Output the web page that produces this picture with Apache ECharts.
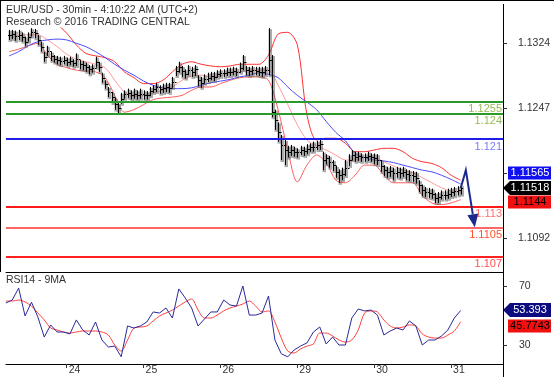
<!DOCTYPE html>
<html>
<head>
<meta charset="utf-8">
<script src="https://cdn.jsdelivr.net/npm/echarts@6/dist/echarts.min.js"></script>
<style>
html, body { margin: 0; padding: 0; background: #fff; }
#main { width: 554px; height: 377px; }
</style>
</head>
<body>
<div id="main"></div>
<script>
// time axis: hours from 24th 00:00 (weekend removed)
var dayTicks = [0, 24, 48, 72, 96, 120];
var dayLabels = ['24', '25', '26', '29', '30', '31'];

// hourly bars, first one at t = -18
var barStart = -18;
var highs = [
    1.1340, 1.1340, 1.1339, 1.1340, 1.1337, 1.1332, 1.1337, 1.1342, 1.1341, 1.1334,
    1.1326, 1.1314, 1.1321, 1.1314, 1.1310, 1.1309, 1.1308, 1.1309, 1.1307, 1.1308,
    1.1305, 1.1312, 1.1304, 1.1303, 1.1301, 1.1298, 1.1299, 1.1308, 1.1302, 1.1289,
    1.1280, 1.1272, 1.1266, 1.1259, 1.1253, 1.1265, 1.1268, 1.1270, 1.1268, 1.1270,
    1.1268, 1.1270, 1.1268, 1.1267, 1.1272, 1.1274, 1.1277, 1.1274, 1.1276, 1.1277,
    1.1277, 1.1284, 1.1297, 1.1302, 1.1297, 1.1293, 1.1298, 1.1296, 1.1298, 1.1286,
    1.1284, 1.1287, 1.1289, 1.1290, 1.1290, 1.1292, 1.1293, 1.1293, 1.1295, 1.1295,
    1.1296, 1.1295, 1.1301, 1.1310, 1.1297, 1.1296, 1.1297, 1.1296, 1.1296, 1.1296,
    1.1297, 1.1342, 1.1310, 1.1245, 1.1230, 1.1215, 1.1209, 1.1202, 1.1203, 1.1201,
    1.1199, 1.1202, 1.1201, 1.1204, 1.1205, 1.1207, 1.1208, 1.1209, 1.1195, 1.1192,
    1.1190, 1.1185, 1.1178, 1.1174, 1.1176, 1.1185, 1.1192, 1.1197, 1.1195, 1.1195,
    1.1193, 1.1193, 1.1195, 1.1193, 1.1193, 1.1192, 1.1185, 1.1179, 1.1177, 1.1178,
    1.1176, 1.1177, 1.1176, 1.1177, 1.1174, 1.1173, 1.1172, 1.1171, 1.1161, 1.1156,
    1.1153, 1.1152, 1.1151, 1.1146, 1.1147, 1.1149, 1.1149, 1.1151, 1.1152, 1.1153,
    1.1154, 1.1155
];
var lows = [
    1.1328, 1.1329, 1.1327, 1.1328, 1.1326, 1.1321, 1.1326, 1.1332, 1.1330, 1.1322,
    1.1314, 1.1302, 1.1309, 1.1303, 1.1301, 1.1299, 1.1298, 1.1299, 1.1297, 1.1298,
    1.1296, 1.1297, 1.1293, 1.1292, 1.1290, 1.1287, 1.1289, 1.1295, 1.1290, 1.1277,
    1.1270, 1.1260, 1.1253, 1.1245, 1.1241, 1.1252, 1.1258, 1.1259, 1.1257, 1.1258,
    1.1257, 1.1258, 1.1257, 1.1257, 1.1261, 1.1265, 1.1266, 1.1264, 1.1265, 1.1266,
    1.1265, 1.1271, 1.1285, 1.1289, 1.1284, 1.1282, 1.1286, 1.1284, 1.1285, 1.1273,
    1.1271, 1.1276, 1.1278, 1.1280, 1.1279, 1.1283, 1.1284, 1.1284, 1.1285, 1.1285,
    1.1286, 1.1285, 1.1289, 1.1292, 1.1286, 1.1285, 1.1286, 1.1286, 1.1285, 1.1284,
    1.1286, 1.1286, 1.1236, 1.1221, 1.1207, 1.1185, 1.1179, 1.1188, 1.1190, 1.1189,
    1.1188, 1.1191, 1.1190, 1.1192, 1.1195, 1.1195, 1.1197, 1.1197, 1.1173, 1.1180,
    1.1176, 1.1172, 1.1164, 1.1158, 1.1161, 1.1166, 1.1178, 1.1185, 1.1183, 1.1184,
    1.1183, 1.1183, 1.1184, 1.1183, 1.1180, 1.1179, 1.1171, 1.1166, 1.1164, 1.1165,
    1.1161, 1.1164, 1.1163, 1.1165, 1.1161, 1.1160, 1.1159, 1.1157, 1.1147, 1.1142,
    1.1141, 1.1140, 1.1139, 1.1134, 1.1134, 1.1138, 1.1138, 1.1139, 1.1141, 1.1142,
    1.1143, 1.1144
];
var closes = [
    1.1334, 1.1335, 1.1333, 1.1334, 1.1332, 1.1326, 1.1332, 1.1337, 1.1336, 1.1328,
    1.1320, 1.1308, 1.1315, 1.1309, 1.1305, 1.1304, 1.1303, 1.1304, 1.1302, 1.1303,
    1.1300, 1.1305, 1.1299, 1.1298, 1.1296, 1.1293, 1.1295, 1.1302, 1.1296, 1.1283,
    1.1276, 1.1266, 1.1260, 1.1252, 1.1247, 1.1258, 1.1264, 1.1265, 1.1262, 1.1264,
    1.1262, 1.1264, 1.1262, 1.1262, 1.1267, 1.1270, 1.1272, 1.1270, 1.1271, 1.1272,
    1.1271, 1.1278, 1.1291, 1.1296, 1.1291, 1.1287, 1.1292, 1.1290, 1.1293, 1.1280,
    1.1277, 1.1282, 1.1283, 1.1285, 1.1284, 1.1287, 1.1289, 1.1289, 1.1290, 1.1290,
    1.1291, 1.1290, 1.1295, 1.1302, 1.1292, 1.1291, 1.1292, 1.1291, 1.1290, 1.1290,
    1.1292, 1.1304, 1.1242, 1.1233, 1.1218, 1.1203, 1.1197, 1.1195, 1.1197, 1.1195,
    1.1195, 1.1197, 1.1196, 1.1198, 1.1201, 1.1201, 1.1203, 1.1204, 1.1185, 1.1188,
    1.1183, 1.1179, 1.1171, 1.1167, 1.1168, 1.1176, 1.1185, 1.1191, 1.1189, 1.1190,
    1.1189, 1.1189, 1.1190, 1.1189, 1.1188, 1.1185, 1.1178, 1.1173, 1.1171, 1.1172,
    1.1170, 1.1171, 1.1170, 1.1171, 1.1168, 1.1167, 1.1166, 1.1164, 1.1155, 1.1149,
    1.1147, 1.1146, 1.1145, 1.1140, 1.1141, 1.1143, 1.1143, 1.1145, 1.1147, 1.1148,
    1.1149, 1.11518
];

// indicator lines, one value every 3 hours from t = -18
var lineStart = -18, lineStep = 3;
var ma = [
    1.1309, 1.1314, 1.1321, 1.1326, 1.1328, 1.1329, 1.1328, 1.1324, 1.1320, 1.1314,
    1.1307, 1.1299, 1.1292, 1.1286, 1.1279, 1.1274, 1.1271, 1.1270, 1.1270, 1.1271,
    1.1274, 1.1277, 1.1279, 1.1281, 1.1284, 1.1286, 1.1289, 1.1287, 1.1283, 1.1272,
    1.1262, 1.1254, 1.1245, 1.1231, 1.1218, 1.1208, 1.1193, 1.1188, 1.1185, 1.1184,
    1.1182, 1.1179, 1.1176, 1.1173, 1.1171, 1.1167, 1.1162, 1.11565
];
var bbUpper = [
    1.1349, 1.1352, 1.1353, 1.1352, 1.1349, 1.1346, 1.1336, 1.1322, 1.1312, 1.1309,
    1.1307, 1.1302, 1.1290, 1.1283, 1.1276, 1.1276, 1.1280, 1.1290, 1.1299, 1.1302,
    1.1299, 1.1297, 1.1296, 1.1297, 1.1299, 1.1299, 1.1299, 1.1310, 1.1335, 1.1337,
    1.1322, 1.1239, 1.1209, 1.1211, 1.1211, 1.1205, 1.1195, 1.1195, 1.1197, 1.1199,
    1.1199, 1.1195, 1.1187, 1.1183, 1.1181, 1.1176, 1.1167, 1.1161
];
var bbMid = [
    1.1330, 1.1333, 1.1334, 1.1334, 1.1328, 1.1320, 1.1311, 1.1305, 1.1302, 1.1299,
    1.1295, 1.1280, 1.1266, 1.1261, 1.1262, 1.1265, 1.1268, 1.1272, 1.1280, 1.1285,
    1.1286, 1.1284, 1.1285, 1.1289, 1.1290, 1.1292, 1.1292, 1.1292, 1.1274, 1.1251,
    1.1227, 1.1209, 1.1202, 1.1197, 1.1191, 1.1185, 1.1185, 1.1188, 1.1188, 1.1183,
    1.1178, 1.1173, 1.1170, 1.1164, 1.1158, 1.1152, 1.1148, 1.1147
];
var bbLower = [
    1.1314, 1.1317, 1.1321, 1.1324, 1.1310, 1.1299, 1.1295, 1.1292, 1.1291, 1.1290,
    1.1283, 1.1262, 1.1242, 1.1245, 1.1251, 1.1257, 1.1259, 1.1260, 1.1262, 1.1268,
    1.1272, 1.1272, 1.1276, 1.1280, 1.1283, 1.1284, 1.1284, 1.1280, 1.1245, 1.1197,
    1.1159, 1.1179, 1.1191, 1.1182, 1.1161, 1.1158, 1.1167, 1.1179, 1.1179, 1.1167,
    1.1158, 1.1158, 1.1158, 1.1143, 1.1134, 1.1132, 1.1134, 1.1138
];

// RSI(14) and its 9MA, one value every 2 hours from t = -19
var rsiStart = -19, rsiStep = 2;
var rsi = [
    58.5, 60.5, 68.6, 49.7, 59.0, 49.0, 35.4, 43.6, 38.8, 38.8,
    37.5, 47.0, 40.2, 36.8, 45.6, 33.4, 28.6, 29.3, 22.0, 42.9,
    41.5, 42.9, 45.6, 52.4, 51.7, 55.1, 48.3, 68.0, 61.9, 55.1,
    42.9, 47.6, 52.4, 52.4, 60.5, 57.1, 56.4, 70.0, 50.3, 50.3,
    51.7, 63.2, 33.4, 24.0, 22.0, 26.6, 29.3, 31.4, 38.8, 42.2,
    30.7, 35.4, 30.0, 30.0, 48.3, 54.4, 53.1, 53.7, 50.3, 36.8,
    39.5, 41.5, 40.2, 46.3, 42.9, 30.0, 33.4, 33.4, 36.1, 40.2,
    48.3, 53.393
];
var rsiMa = [
    59.8, 59.8, 60.5, 59.2, 56.4, 51.7, 47.0, 41.5, 40.2, 38.8,
    38.1, 38.8, 39.5, 39.5, 39.5, 38.8, 36.8, 30.0, 25.9, 33.4,
    41.5, 42.2, 42.9, 46.3, 49.7, 51.7, 53.7, 56.4, 59.2, 61.2,
    53.7, 48.3, 48.3, 50.3, 53.1, 55.1, 56.4, 57.8, 59.8, 56.4,
    52.4, 53.1, 45.6, 34.7, 25.9, 24.6, 27.3, 29.3, 30.7, 38.1,
    38.1, 36.1, 33.4, 32.0, 33.4, 40.2, 51.7, 53.1, 52.4, 47.0,
    42.9, 41.5, 42.2, 43.6, 42.9, 37.5, 35.4, 34.7, 34.7, 36.8,
    39.5, 45.7743
];

// key levels and forecast path
var levelValues = [1.1255, 1.124, 1.121, 1.113, 1.1105, 1.107];
var levelLabels = ['1.1255', '1.124', '1.121', '1.113', '1.1105', '1.107'];
var forecastTimes = [123, 124.6, 127.4];
var forecastPrices = [1.11518, 1.1173, 1.1105];

// axis ticks and labels
var priceTicks = [1.1092, 1.11695, 1.1247, 1.1324];
var priceLabels = [1.1092, 1.1247, 1.1324];
var rsiTicks = [30, 70];

var lowerBandTag = 1.1144;

var FONT = 'Liberation Sans';
var levelLine = ['#2a9a2a', '#2a9a2a', '#1e1ee8', '#ff1a1a', '#ff6666', '#ff2020'];
var levelText = ['#98ba58', '#98ba58', '#7a7aff', '#ff7070', '#ff5030', '#ff5050'];

function pairs(start, step, values) {
    return values.map(function (v, i) { return [start + i * step, v]; });
}

// open tick drawn at the previous bar's close
var barData = highs.map(function (h, i) {
    return [barStart + i, h, lows[i], closes[i], i > 0 ? closes[i - 1] : closes[i]];
});

function renderBar(params, api) {
    var t = api.value(0);
    var hi = api.coord([t, api.value(1)]);
    var lo = api.coord([t, api.value(2)]);
    var cl = api.coord([t, api.value(3)]);
    var op = api.coord([t, api.value(4)]);
    var x = Math.round(hi[0]) + 0.5;
    var yc = Math.round(cl[1]) + 0.5, yo = Math.round(op[1]) + 0.5;
    return {
        type: 'group',
        children: [
            { type: 'rect', shape: { x: x - 1, y: hi[1] + 1, width: 3.5, height: lo[1] - hi[1] + 1 },
              style: { fill: 'rgba(100,100,100,0.55)' } },
            { type: 'line', shape: { x1: x, y1: hi[1], x2: x, y2: lo[1] },
              style: { stroke: '#000', lineWidth: 1 } },
            { type: 'line', shape: { x1: x - 1.5, y1: yo, x2: x, y2: yo },
              style: { stroke: '#000', lineWidth: 1 } },
            { type: 'line', shape: { x1: x, y1: yc, x2: x + 1.5, y2: yc },
              style: { stroke: '#000', lineWidth: 1 } }
        ]
    };
}

// forecast arrow: whole path drawn from the first item
function renderArrow(params, api) {
    if (params.dataIndexInside !== 0) return null;
    var pts = [];
    for (var i = 0; i < forecastTimes.length; i++) {
        pts.push(api.coord([api.value(0, i), api.value(1, i)]));
    }
    var a = pts[pts.length - 2], b = pts[pts.length - 1];
    var dx = b[0] - a[0], dy = b[1] - a[1];
    var len = Math.sqrt(dx * dx + dy * dy);
    var ux = dx / len, uy = dy / len;
    var headL = 13, headW = 5.5;
    var base = [b[0] - ux * headL, b[1] - uy * headL];
    var path = pts.slice(0, pts.length - 1).concat([base]);
    return {
        type: 'group',
        children: [
            { type: 'polyline', shape: { points: path }, style: { stroke: '#1c2a8c', lineWidth: 2, fill: null } },
            { type: 'polygon', shape: { points: [b,
                [base[0] - uy * headW, base[1] + ux * headW],
                [base[0] + uy * headW, base[1] - ux * headW]] },
              style: { fill: '#1c2a8c' } }
        ]
    };
}

var xMin = -18.95, xMax = 136.2;

var chart = echarts.init(document.getElementById('main'));
var titleStyle = { fontSize: 10.5, fontWeight: 'normal', color: '#333', fontFamily: FONT };
var option = {
    animation: false,
    textStyle: { fontFamily: FONT },
    title: [
        { text: 'EUR/USD - 30min - 4:10:22 AM (UTC+2)', left: 6, top: 5, padding: 0, textStyle: titleStyle },
        { text: 'Research \u00a9 2016 TRADING CENTRAL', left: 6, top: 17, padding: 0, textStyle: titleStyle },
        { text: 'RSI14 - 9MA', left: 6, top: 275, padding: 0, textStyle: titleStyle }
    ],
    grid: [
        { left: 6, top: 28, width: 497, height: 244 },
        { left: 6, top: 272, width: 497, height: 92 }
    ],
    xAxis: [
        { gridIndex: 0, type: 'value', min: xMin, max: xMax,
          axisLine: { show: true, onZero: false, lineStyle: { color: '#000', width: 1 } },
          axisTick: { show: false }, axisLabel: { show: false }, splitLine: { show: false } },
        { gridIndex: 1, type: 'value', min: xMin, max: xMax,
          axisLine: { show: true, onZero: false, lineStyle: { color: '#000', width: 1 } },
          axisTick: { show: true, customValues: dayTicks, length: 4, lineStyle: { color: '#333' } },
          axisLabel: { show: true, customValues: dayTicks, margin: 1, align: 'left',
                       padding: [0, 0, 0, 2], fontSize: 10.5, color: '#333', fontFamily: FONT,
                       formatter: function (v) { return dayLabels[dayTicks.indexOf(v)]; } },
          splitLine: { show: false } }
    ],
    yAxis: [
        { gridIndex: 0, type: 'value', position: 'right', min: 1.105182, max: 1.134218,
          axisLine: { show: true, onZero: false, lineStyle: { color: '#000' } },
          axisTick: { show: true, customValues: priceTicks, length: 4, lineStyle: { color: '#333' } },
          axisLabel: { show: true, customValues: priceLabels, margin: 15, fontSize: 10.5,
                       color: '#333', fontFamily: FONT,
                       formatter: function (v) { return v.toFixed(4); } },
          splitLine: { show: false } },
        { gridIndex: 1, type: 'value', position: 'right', min: 17.12, max: 79.49,
          axisLine: { show: true, onZero: false, lineStyle: { color: '#000' } },
          axisTick: { show: true, customValues: rsiTicks, length: 4, lineStyle: { color: '#333' } },
          axisLabel: { show: true, customValues: rsiTicks, margin: 16, fontSize: 10.5,
                       color: '#333', fontFamily: FONT },
          splitLine: { show: false } }
    ],
    series: [
        { type: 'line', xAxisIndex: 0, yAxisIndex: 0, data: pairs(lineStart, lineStep, bbMid),
          showSymbol: false, smooth: 0.3, lineStyle: { color: '#ff9a9a', width: 1 }, z: 2 },
        { type: 'line', xAxisIndex: 0, yAxisIndex: 0, data: pairs(lineStart, lineStep, bbUpper),
          showSymbol: false, smooth: 0.3, lineStyle: { color: '#ff3030', width: 1 }, z: 2 },
        { type: 'line', xAxisIndex: 0, yAxisIndex: 0, data: pairs(lineStart, lineStep, bbLower),
          showSymbol: false, smooth: 0.3, lineStyle: { color: '#ff5a5a', width: 1 }, z: 2 },
        { type: 'line', xAxisIndex: 0, yAxisIndex: 0, data: pairs(lineStart, lineStep, ma),
          showSymbol: false, smooth: 0.3, lineStyle: { color: '#4a4aff', width: 1 }, z: 3,
          markLine: {
              silent: true, symbol: ['none', 'none'], animation: false, precision: 5,
              data: levelValues.map(function (v, i) {
                  return {
                      yAxis: v,
                      lineStyle: { color: levelLine[i], width: 2, type: 'solid' },
                      label: { show: true, position: 'insideEndBottom', distance: [1, 2],
                               formatter: levelLabels[i], color: levelText[i], fontSize: 11,
                               fontFamily: FONT }
                  };
              })
          } },
        { type: 'custom', xAxisIndex: 0, yAxisIndex: 0, data: barData, renderItem: renderBar,
          clip: true, z: 4 },
        { type: 'custom', xAxisIndex: 0, yAxisIndex: 0, renderItem: renderArrow, z: 6,
          data: forecastTimes.map(function (t, i) { return [t, forecastPrices[i]]; }) },
        { type: 'line', xAxisIndex: 1, yAxisIndex: 1, data: pairs(rsiStart, rsiStep, rsiMa),
          showSymbol: false, smooth: 0.3, lineStyle: { color: '#ff4040', width: 1 }, z: 2 },
        { type: 'line', xAxisIndex: 1, yAxisIndex: 1, data: pairs(rsiStart, rsiStep, rsi),
          showSymbol: false, lineStyle: { color: '#2a2a9a', width: 1 }, z: 3 }
    ]
};
chart.setOption(option);

// right side value tags
function tag(gridIndex, t, v, shiftY, text, bg, fg, pointer) {
    var p = chart.convertToPixel({ xAxisIndex: gridIndex, yAxisIndex: gridIndex }, [t, v]);
    var y = Math.round(p[1]) + shiftY;
    var shape = pointer
        ? [[503, y], [510, y - 7], [551, y - 7], [551, y + 7], [510, y + 7]]
        : [[508, y - 6.5], [551, y - 6.5], [551, y + 6.5], [508, y + 6.5]];
    return {
        type: 'group', z: 100,
        children: [
            { type: 'polygon', shape: { points: shape }, style: { fill: bg } },
            { type: 'text', x: 530, y: y,
              style: { text: text, fill: fg, font: '11px ' + FONT, align: 'center', verticalAlign: 'middle' } }
        ]
    };
}

var lastT = barStart + closes.length - 1;
var lastMa = ma[ma.length - 1];
var lastClose = closes[closes.length - 1];
var lastRsiT = rsiStart + (rsi.length - 1) * rsiStep;

chart.setOption({
    graphic: [
        { type: 'line', shape: { x1: 0, y1: 0.5, x2: 554, y2: 0.5 }, style: { stroke: '#000', lineWidth: 1 } },
        { type: 'line', shape: { x1: 0.5, y1: 0, x2: 0.5, y2: 272 }, style: { stroke: '#000', lineWidth: 1 } },
        { type: 'line', shape: { x1: 503.5, y1: 4, x2: 503.5, y2: 377 }, style: { stroke: '#000', lineWidth: 1 } },
        tag(0, lastT, lastMa, -11, String(lastMa), '#1010f0', '#fff', false),
        tag(0, lastT, lastClose, 0, String(lastClose), '#000', '#fff', true),
        tag(0, lastT, lowerBandTag, 7, String(lowerBandTag), '#f01010', '#000', false),
        tag(1, lastRsiT, rsi[rsi.length - 1], 0, String(rsi[rsi.length - 1]), '#0c0c80', '#fff', true),
        tag(1, lastRsiT, rsiMa[rsiMa.length - 1], 4, String(rsiMa[rsiMa.length - 1]), '#f01010', '#000', false)
    ]
});
</script>
</body>
</html>
